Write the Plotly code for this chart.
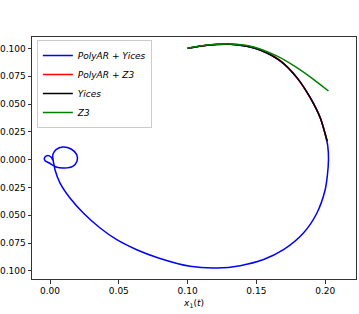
import plotly.graph_objects as go

# ---- data ----
yices_x = [0.1, 0.114, 0.1309, 0.143, 0.1527, 0.1673, 0.1794, 0.1891, 0.1964, 0.1998, 0.2016]
yices_y = [0.1, 0.1028, 0.1036, 0.1018, 0.0985, 0.0887, 0.0737, 0.0557, 0.0377, 0.0240, 0.0165]

polyar_z3_x = [0.1, 0.114, 0.1309, 0.143, 0.1527, 0.1673, 0.1794, 0.1891, 0.1964, 0.1998, 0.2012]
polyar_z3_y = [0.1, 0.1029, 0.1039, 0.1023, 0.0990, 0.0890, 0.0739, 0.0558, 0.0377, 0.0240, 0.0170]

z3_x = [0.1, 0.114, 0.1309, 0.1479, 0.1648, 0.1794, 0.1915, 0.2024]
z3_y = [0.1, 0.103, 0.1039, 0.1013, 0.0932, 0.0827, 0.0722, 0.0617]

polyar_yices_x = [0.1, 0.114, 0.1309, 0.143, 0.1527, 0.1673, 0.1794, 0.1891, 0.1964, 0.1998,
                  0.2019, 0.2024, 0.2016, 0.2, 0.194, 0.1842, 0.1697, 0.1552, 0.1382,
                  0.1212, 0.1018, 0.0788, 0.063, 0.0485, 0.0364, 0.0242, 0.0145, 0.0073,
                  0.0036, 0.003, 0.0024, 0.002, 0.0044, 0.0092, 0.0153, 0.0194, 0.0196, 0.0165,
                  0.0104, 0.0044, -0.0005, -0.0036, -0.0041, -0.0022, 0.0007, 0.002]
polyar_yices_y = [0.1, 0.1028, 0.1036, 0.1018, 0.0985, 0.0887, 0.0737, 0.0557, 0.0377, 0.0240,
                  0.012, 0.0, -0.014, -0.027, -0.0479, -0.0659, -0.0809, -0.0897, -0.0952,
                  -0.0973, -0.0958, -0.0883, -0.0809, -0.0719, -0.0614, -0.0479, -0.0344, -0.021,
                  -0.009, -0.005, -0.0015, 0.0045, 0.009, 0.0114, 0.0096, 0.0045, -0.0015, -0.006,
                  -0.0075, -0.0066, -0.003, -0.0009, 0.0015, 0.0036, 0.0024, -0.0006]

x_ticks = [0.0, 0.05, 0.10, 0.15, 0.20]
x_tick_labels = ["0.00", "0.05", "0.10", "0.15", "0.20"]
y_ticks = [-0.1, -0.075, -0.05, -0.025, 0.0, 0.025, 0.05, 0.075, 0.1]
# the reference is cropped on the left, so the minus signs are not visible there
y_tick_labels = ["0.100", "0.075", "0.050", "0.025", "0.000", "0.025", "0.050", "0.075", "0.100"]

fig = go.Figure()
fig.add_trace(go.Scatter(x=polyar_yices_x, y=polyar_yices_y, mode="lines",
                         name="<i>PolyAR</i> + <i>Yices</i>",
                         line=dict(color="blue", width=1.5, shape="spline", smoothing=0.8)))
fig.add_trace(go.Scatter(x=polyar_z3_x, y=polyar_z3_y, mode="lines",
                         name="<i>PolyAR</i> + <i>Z3</i>",
                         line=dict(color="red", width=1.5, shape="spline", smoothing=0.8)))
fig.add_trace(go.Scatter(x=yices_x, y=yices_y, mode="lines", name="<i>Yices</i>",
                         line=dict(color="black", width=1.5, shape="spline", smoothing=0.8)))
fig.add_trace(go.Scatter(x=z3_x, y=z3_y, mode="lines", name="<i>Z3</i>",
                         line=dict(color="green", width=1.5, shape="spline", smoothing=0.8)))

axis_common = dict(showline=True, linecolor="#333333", linewidth=1, mirror=True,
                   ticks="outside", ticklen=3.5, tickwidth=1, tickcolor="#333333",
                   showgrid=False, zeroline=False, automargin=False,
                   tickfont=dict(family="DejaVu Sans", size=9, color="black"))

fig.update_xaxes(range=[-0.0131, 0.2224], tickvals=x_ticks, ticktext=x_tick_labels,
                 title=dict(text="<i>x</i><sub>1</sub>(<i>t</i>)", standoff=4,
                            font=dict(family="DejaVu Sans", size=9, color="black")),
                 **axis_common)
fig.update_yaxes(range=[-0.1072, 0.1102], tickvals=y_ticks, ticktext=y_tick_labels,
                 **axis_common)

fig.update_layout(
    width=359, height=314,
    margin=dict(l=32, r=3, t=37, b=35),
    paper_bgcolor="white", plot_bgcolor="white",
    font=dict(family="DejaVu Sans", size=9, color="black"),
    legend=dict(x=0.015, y=0.988, xanchor="left", yanchor="top",
                bgcolor="rgba(255,255,255,0.8)", bordercolor="#cccccc", borderwidth=1,
                font=dict(family="DejaVu Sans", size=9, color="black"),
                itemwidth=30, tracegroupgap=0),
)

fig.write_html("out.html", config={"displayModeBar": False},
               post_script="document.body.style.margin='0';")
